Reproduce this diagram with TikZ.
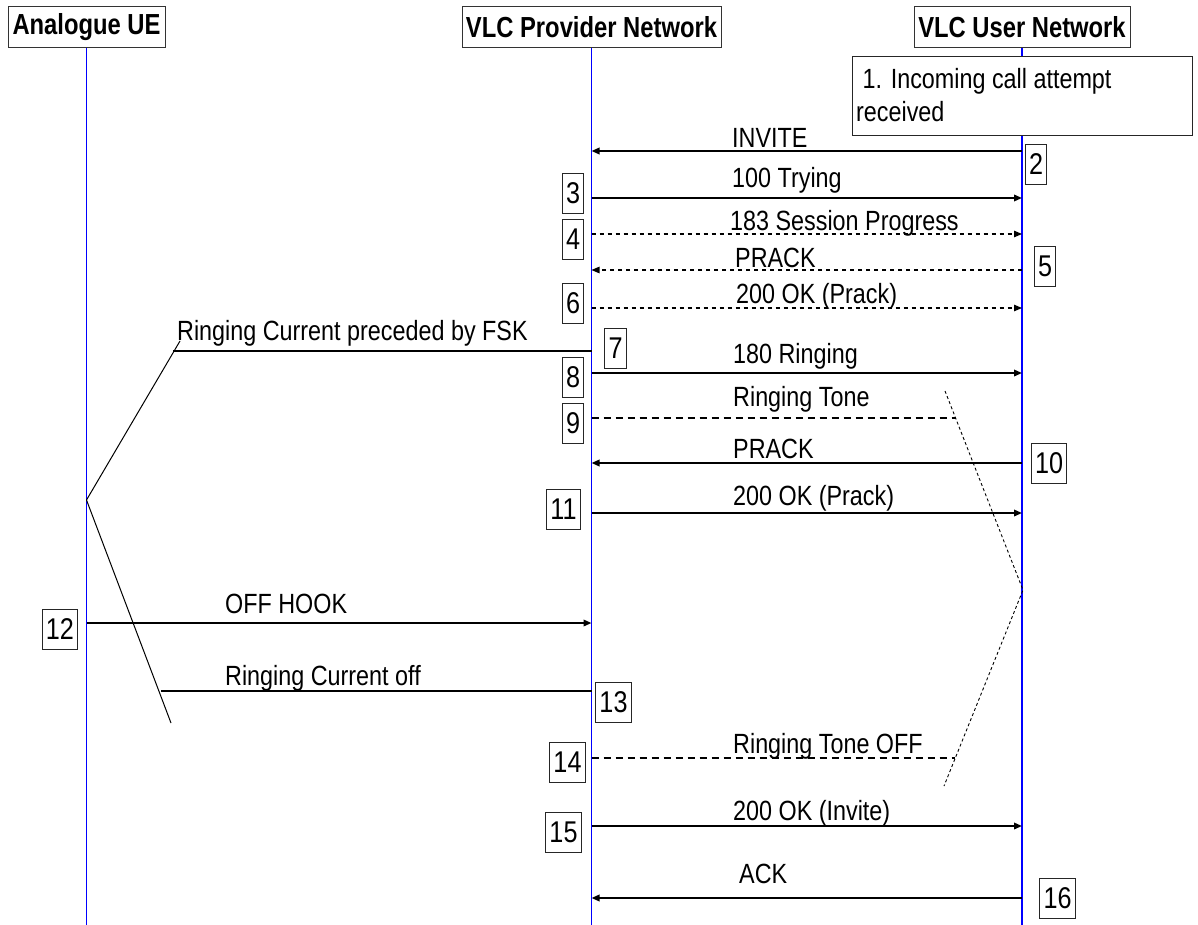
\documentclass[tikz,border=0pt]{standalone}
\usepackage{fontspec}
\setmainfont{Liberation Sans}
\newfontfamily\narrowfont[FakeStretch=0.84]{Liberation Sans}
\newfontfamily\headfont[FakeStretch=0.82]{Liberation Sans}
\usetikzlibrary{arrows.meta}

\begin{document}
\begin{tikzpicture}[x=1pt,y=-1pt,
  every node/.style={inner sep=0pt},
  head/.style={draw=black!80, line width=1pt, fill=white, minimum height=41pt,
    font=\headfont\bfseries\fontsize{29}{33}\selectfont},
  life/.style={draw=blue, line width=1.2pt},
  lbl/.style={anchor=base west, font=\narrowfont\fontsize{27.8}{33}\selectfont},
  numbox/.style={draw=black!85, line width=0.9pt, fill=white, minimum height=40pt,
    inner xsep=3.9pt, font=\narrowfont\fontsize{30}{30}\selectfont},
  tip/.style={-{Triangle[length=8pt,width=6.5pt]}},
  msg/.style={draw, line width=1.8pt, tip},
  dmsg/.style={draw, line width=1.2pt, dash pattern=on 4.5pt off 3.5pt, tip},
  tone/.style={draw, line width=1.2pt, dash pattern=on 7pt off 5pt},
  ring/.style={draw, line width=1pt},
  ringh/.style={draw, line width=1.4pt},
  dotline/.style={draw, line width=0.9pt, dash pattern=on 3pt off 2.5pt}]

\useasboundingbox (0,0) rectangle (1198,925);

% entities and their lifelines
\node[head, minimum width=157pt] (ue)   at (86.5,27.5) {Analogue UE};
\node[head, minimum width=259pt] (prov) at (591.5,27.5) {VLC Provider Network};
\node[head, minimum width=216pt] (user) at (1022,27.5) {VLC User Network};
\coordinate (ueEnd)   at (86.5,925);
\coordinate (provEnd) at (591.5,925);
\coordinate (userEnd) at (1022,925);
\draw[life] (ue.south) -- (ueEnd);
\draw[life] (prov.south) -- (provEnd);
\draw[life] (user.south) -- (userEnd);

% step 1 note
\node[draw=black!85, line width=1pt, fill=white, minimum width=340pt, minimum height=79pt,
  anchor=north west] (note) at (852,56) {};
\node[lbl] (noteLineA) at (856,89) {\hspace*{6.5pt}1. Incoming call attempt};
\node[lbl] (noteLineB) at (856,122) {received};

% SIP signalling between the networks
\draw[msg]  (user |- 0,151) -- (prov |- 0,151);
\node[lbl] (lInvite) at (732,148) {INVITE};
\draw[msg]  (prov |- 0,198) -- (user |- 0,198);
\node[lbl] (lTrying) at (732,188) {100 Trying};
\draw[dmsg] (prov |- 0,234) -- (user |- 0,234);
\node[lbl] (lSession) at (730,231) {183 Session Progress};
\draw[dmsg] (user |- 0,270) -- (prov |- 0,270);
\node[lbl] (lPrackA) at (735,267) {PRACK};
\draw[dmsg] (prov |- 0,308) -- (user |- 0,308);
\node[lbl] (lOkPrackA) at (736,303) {200 OK (Prack)};
\draw[msg]  (prov |- 0,373) -- (user |- 0,373);
\node[lbl] (lRinging) at (733,363) {180 Ringing};
\draw[msg]  (user |- 0,463) -- (prov |- 0,463);
\node[lbl] (lPrackB) at (733,458) {PRACK};
\draw[msg]  (prov |- 0,513) -- (user |- 0,513);
\node[lbl] (lOkPrackB) at (733,505) {200 OK (Prack)};
\draw[msg]  (prov |- 0,826) -- (user |- 0,826);
\node[lbl] (lOkInvite) at (733,820) {200 OK (Invite)};
\draw[msg]  (user |- 0,898) -- (prov |- 0,898);
\node[lbl] (lAck) at (739,883) {ACK};

% ringing tone interval
\coordinate (dTop) at (945,391);
\coordinate (dMid) at (1023,590);
\coordinate (dBot) at (944,786);
\draw[dotline] (dTop) -- (dMid) -- (dBot);
\coordinate (toneOn)  at (955.6,418);
\coordinate (toneOff) at (955,758);
\draw[tone] (prov |- toneOn) -- (toneOn);
\node[lbl] (lTone) at (733,406) {Ringing Tone};
\draw[tone] (prov |- toneOff) -- (toneOff);
\node[lbl] (lToneOff) at (733,753) {Ringing Tone OFF};

% analogue line: ringing current and off hook
\coordinate (vtx)     at (86.5,500);
\coordinate (rcTop)   at (180,341);
\coordinate (rcStart) at (173,351);
\coordinate (rcBot)   at (171,723);
\coordinate (rcOff)   at (161,691);
\draw[ring]  (vtx) -- (rcTop);
\draw[ring]  (vtx) -- (rcBot);
\draw[ringh] (rcStart) -- (prov |- rcStart);
\node[lbl] (lRcOn) at (177,340) {Ringing Current preceded by FSK};
\draw[ringh] (rcOff) -- (prov |- rcOff);
\node[lbl] (lRcOff) at (225,685) {Ringing Current off};
\draw[msg] (ue |- 0,623) -- (prov |- 0,623);
\node[lbl] (lOffHook) at (225,613) {OFF HOOK};

% step numbers
\node[numbox] (n2)  at (1036,164.5) {2};
\node[numbox] (n3)  at (573,193) {3};
\node[numbox] (n4)  at (573,239) {4};
\node[numbox] (n5)  at (1045,266) {5};
\node[numbox] (n6)  at (573,303.5) {6};
\node[numbox] (n7)  at (615.5,348.5) {7};
\node[numbox] (n8)  at (573,377) {8};
\node[numbox] (n9)  at (573,423) {9};
\node[numbox] (n10) at (1049,463.5) {10};
\node[numbox] (n11) at (563.5,509) {11};
\node[numbox] (n12) at (60,629.5) {12};
\node[numbox] (n13) at (613.5,702) {13};
\node[numbox] (n14) at (567.5,762.5) {14};
\node[numbox] (n15) at (563.5,832) {15};
\node[numbox] (n16) at (1057.5,898) {16};
\end{tikzpicture}
\end{document}
